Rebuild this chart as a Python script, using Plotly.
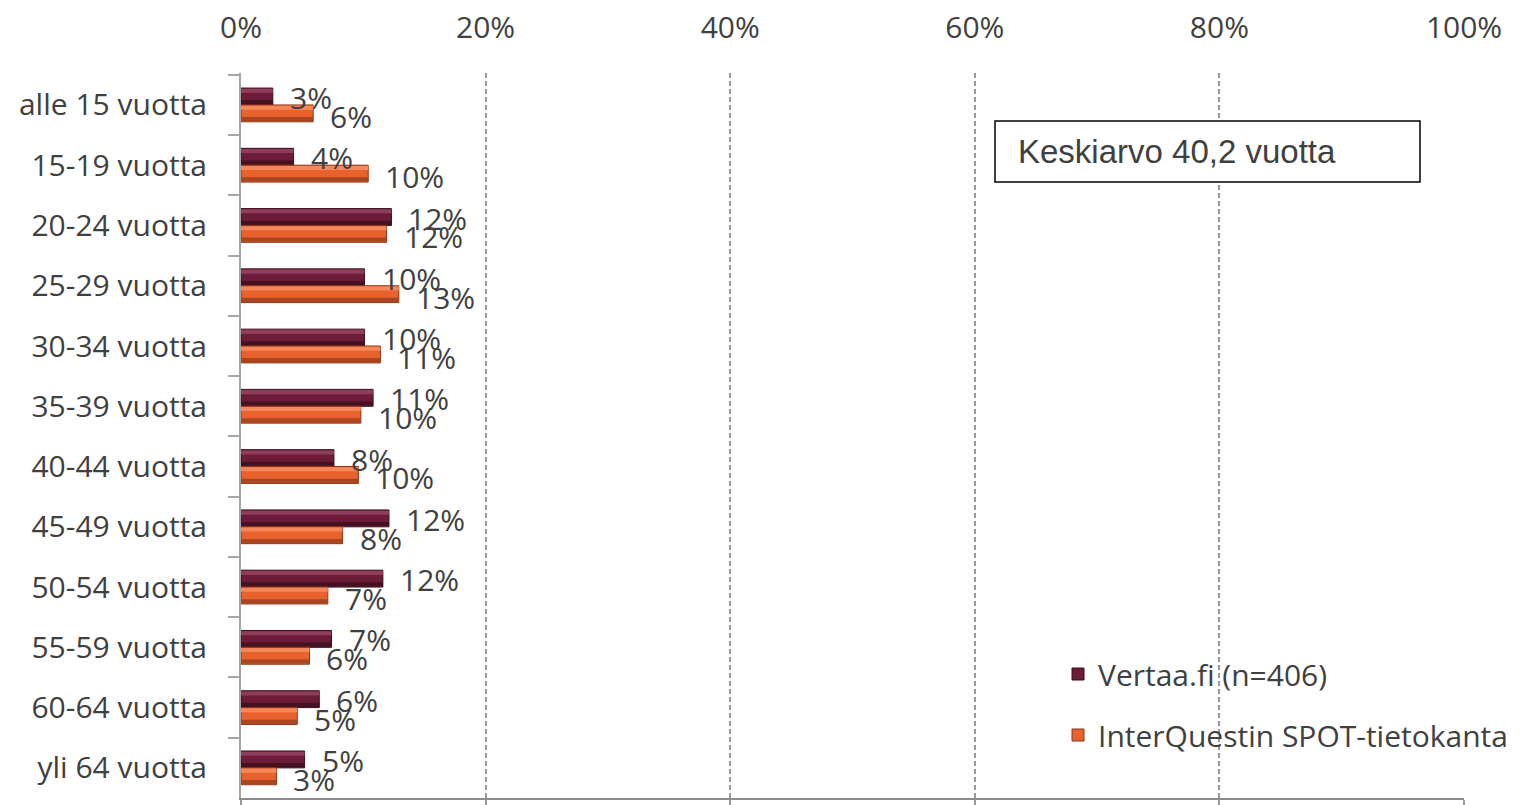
import plotly.graph_objects as go

categories = ["alle 15 vuotta", "15-19 vuotta", "20-24 vuotta", "25-29 vuotta",
              "30-34 vuotta", "35-39 vuotta", "40-44 vuotta", "45-49 vuotta",
              "50-54 vuotta", "55-59 vuotta", "60-64 vuotta", "yli 64 vuotta"]
vertaa = [2.6, 4.3, 12.3, 10.1, 10.1, 10.8, 7.6, 12.1, 11.6, 7.4, 6.4, 5.2]
spot = [5.9, 10.4, 11.9, 12.9, 11.4, 9.8, 9.6, 8.3, 7.1, 5.6, 4.6, 2.9]
series_names = ["Vertaa.fi (n=406)", "InterQuestin SPOT-tietokanta"]
x_ticks = [0, 20, 40, 60, 80, 100]
x_tick_labels = ["0%", "20%", "40%", "60%", "80%", "100%"]
note_text = "Keskiarvo 40,2 vuotta"

FONT = "Open Sans"
TXT = "#404040"
MAROON = "#6c1c38"
MAROON_HI = "#8f3d5a"
MAROON_LO = "#45101f"
MAROON_LINE = "#3a0d1d"
ORANGE = "#e9612d"
ORANGE_HI = "#f5885a"
ORANGE_LO = "#a9451f"
ORANGE_LINE = "#8e3617"

# the page body adds an 8px margin; the figure is sized/offset to compensate
OFF = 8
W, H = 1530 - OFF, 805 - OFF
L, T = 241 - OFF, 73 - OFF
pw, ph = 1223, 725
R, B = W - L - pw, H - T - ph


def px_x(p):
    return (p - OFF - L) / pw


def px_y(p):
    return (T + ph - (p - OFF)) / ph


bargap = 0.44
bw = (1 - bargap) / 2   # width of one bar in category units
band = bw * 0.24        # bevel band thickness

fig = go.Figure()
series = [
    (vertaa, series_names[0], "a", -bw, MAROON, MAROON_HI, MAROON_LO, MAROON_LINE),
    (spot, series_names[1], "b", 0.0, ORANGE, ORANGE_HI, ORANGE_LO, ORANGE_LINE),
]
for vals, name, grp, off, main, hi, lo, edge in series:
    fig.add_trace(go.Bar(y=categories, x=vals, orientation="h", name=name, legendgroup=grp,
                         offset=off, width=bw,
                         marker=dict(color=main, line=dict(color=edge, width=1))))
    # bevel highlight (top) and shade (bottom)
    fig.add_trace(go.Bar(y=categories, x=vals, orientation="h", showlegend=False,
                         legendgroup=grp, offset=off + 0.012, width=band, hoverinfo="skip",
                         marker=dict(color=hi, line=dict(width=0))))
    fig.add_trace(go.Bar(y=categories, x=vals, orientation="h", showlegend=False,
                         legendgroup=grp, offset=off + bw - band - 0.012, width=band,
                         hoverinfo="skip", marker=dict(color=lo, line=dict(width=0))))

# dummy trace so the bottom axis line is drawn
fig.add_trace(go.Scatter(x=[None], y=[None], xaxis="x2", yaxis="y", showlegend=False,
                         legendgroup="b", hoverinfo="skip"))

annotations = []
for i, (a, b) in enumerate(zip(vertaa, spot)):
    annotations.append(dict(x=a, y=i - bw / 2, xref="x", yref="y", text=f"{round(a)}%",
                            showarrow=False, xanchor="left", xshift=15, yshift=-1,
                            font=dict(family=FONT, size=30, color=TXT)))
    annotations.append(dict(x=b, y=i + bw / 2, xref="x", yref="y", text=f"{round(b)}%",
                            showarrow=False, xanchor="left", xshift=15, yshift=-3,
                            font=dict(family=FONT, size=30, color=TXT)))

annotations.append(dict(x=px_x(1016), y=px_y(151), xref="paper", yref="paper", text=note_text,
                        showarrow=False, xanchor="left", yanchor="middle",
                        font=dict(family="Liberation Sans", size=33, color=TXT)))

fig.update_layout(
    width=W, height=H,
    margin=dict(l=L, r=R, t=T, b=B, autoexpand=False),
    paper_bgcolor="white", plot_bgcolor="white",
    barmode="overlay",
    font=dict(family=FONT, size=30, color=TXT),
    showlegend=True,
    legend=dict(x=px_x(1058), y=px_y(648), xanchor="left", yanchor="top",
                bgcolor="rgba(0,0,0,0)", font=dict(family=FONT, size=30, color=TXT),
                traceorder="grouped", tracegroupgap=19, itemclick=False),
    xaxis=dict(side="top", range=[0, 100], tickvals=x_ticks, ticktext=x_tick_labels,
               showgrid=True, gridcolor="#9a9a9a", gridwidth=2, griddash="5px,3px",
               zeroline=False, showline=False, ticks="", ticklabelstandoff=28,
               automargin=False, tickfont=dict(family=FONT, size=30, color=TXT)),
    xaxis2=dict(overlaying="x", side="bottom", anchor="y", range=[0, 100], tickvals=x_ticks,
                showticklabels=False, showgrid=False, zeroline=False, showline=True,
                linecolor="#8c8c8c", linewidth=2, ticks="outside", ticklen=5,
                tickcolor="#9a9a9a", tickwidth=2, automargin=False),
    yaxis=dict(autorange="reversed", type="category", showline=True, linecolor="#a6a6a6",
               linewidth=2, ticks="outside", ticklen=11, tickcolor="#a6a6a6", tickwidth=2,
               tickson="boundaries", showgrid=False, ticklabelstandoff=26, automargin=False,
               tickfont=dict(family=FONT, size=30, color=TXT)),
    annotations=annotations,
    shapes=[dict(type="rect", xref="paper", yref="paper", x0=px_x(995), x1=px_x(1420),
                 y0=px_y(182), y1=px_y(121), line=dict(color="black", width=1.5),
                 fillcolor="white", layer="above")],
)

fig.write_html("out.html")
